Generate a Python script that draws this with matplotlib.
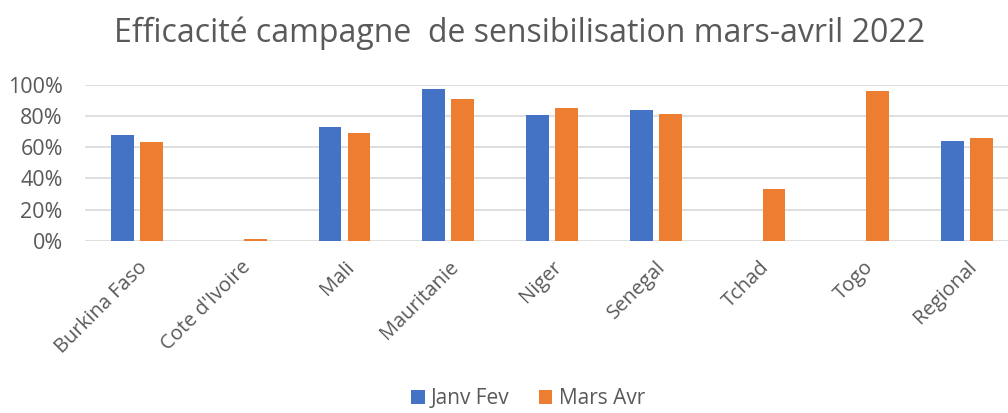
import matplotlib.pyplot as plt
import numpy as np
from matplotlib.ticker import PercentFormatter

pays = ['Burkina Faso', "Cote d'Ivoire", 'Mali', 'Mauritanie', 'Niger',
        'Senegal', 'Tchad', 'Togo', 'Regional']
janv_fev = [0.677, np.nan, 0.732, 0.972, 0.807, 0.837, np.nan, np.nan, 0.638]
mars_avr = [0.634, 0.013, 0.690, 0.912, 0.852, 0.812, 0.332, 0.960, 0.658]

plt.rcParams['font.family'] = ['Open Sans', 'DejaVu Sans']

fig = plt.figure(figsize=(10.08, 4.13), dpi=100)
ax = fig.add_axes([85 / 1008, 172.3 / 413, 934 / 1008, 155.7 / 413])

x = np.arange(len(pays))
w = 0.22
ax.bar(x - 0.14, janv_fev, w, color='#4472c4', label='Janv Fev', zorder=3)
ax.bar(x + 0.14, mars_avr, w, color='#ed7d31', label='Mars Avr', zorder=3)

ax.set_xlim(-0.5, len(pays) - 0.5)
ax.set_ylim(0, 1)
ax.set_yticks(np.arange(0, 1.01, 0.2))
ax.yaxis.set_major_formatter(PercentFormatter(1.0, decimals=0))
ax.grid(axis='y', color='#d9d9d9', linewidth=1.2, zorder=0)
ax.set_xticks(x)
ax.set_xticklabels(pays, rotation=45, ha='right', rotation_mode='anchor')
ax.tick_params(length=0, colors='#595959')
ax.tick_params(axis='x', labelsize=14.5, pad=12)
ax.tick_params(axis='y', labelsize=15.5, pad=16)
for s in ax.spines.values():
    s.set_visible(False)

fig.text(520 / 1008, 1 - 33 / 413, 'Efficacité campagne  de sensibilisation mars-avril 2022',
         ha='center', va='center', fontsize=23, color='#595959')

fig.legend(loc='center', bbox_to_anchor=(528 / 1008, 1 - 399 / 413), ncol=2,
           frameon=False, fontsize=15, handlelength=0.65, handleheight=0.65,
           handletextpad=0.3, columnspacing=1.4, labelcolor='#595959',
           borderpad=0.1)

fig.savefig('out.png', dpi=100)
